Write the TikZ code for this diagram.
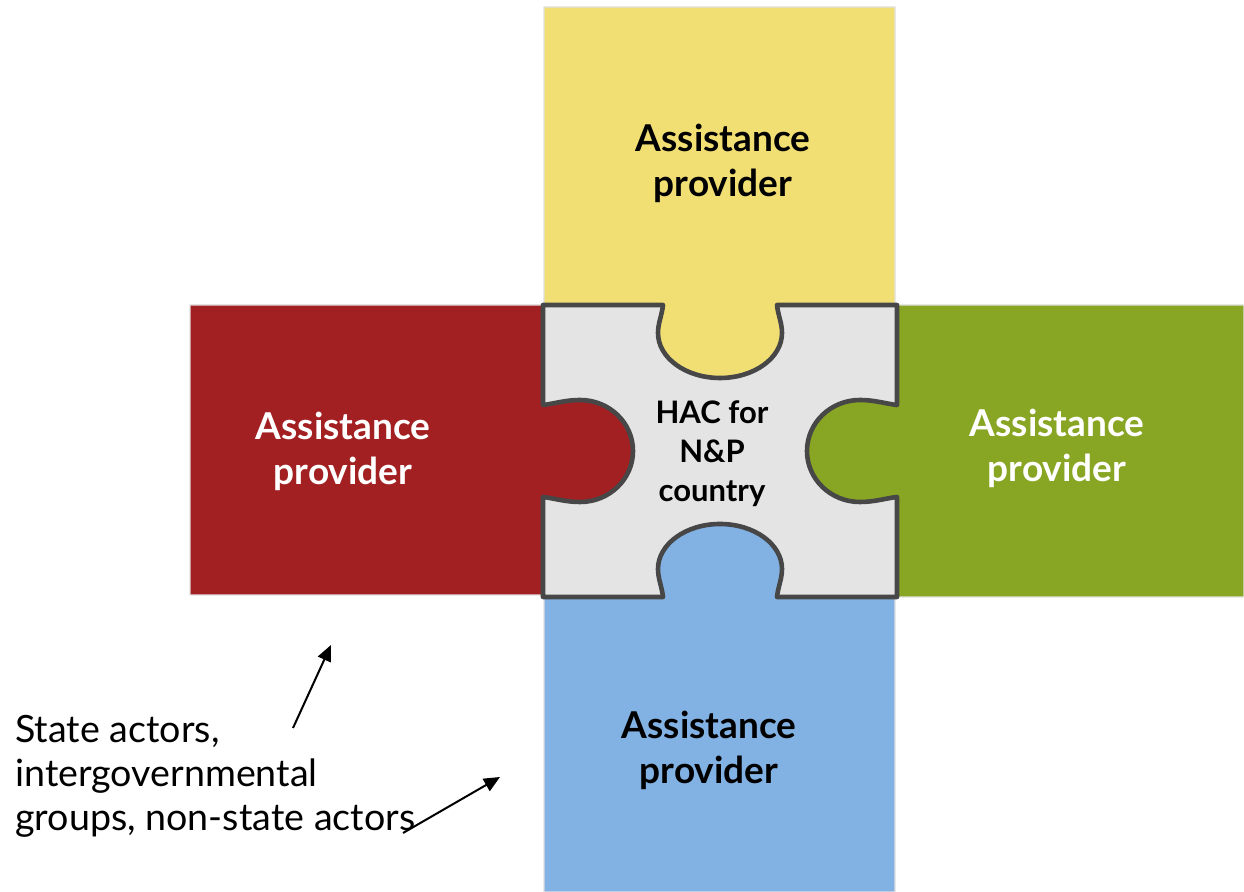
\documentclass[tikz,border=0pt]{standalone}
\usepackage{fontspec}
\setmainfont{Lato}
\usetikzlibrary{arrows.meta}
\definecolor{pyellow}{HTML}{F2DF74}
\definecolor{pred}{HTML}{A32022}
\definecolor{pgreen}{HTML}{88A523}
\definecolor{pblue}{HTML}{82B1E3}
\definecolor{pcenter}{HTML}{E4E4E4}
\definecolor{pborder}{HTML}{474747}
\begin{document}
\begin{tikzpicture}[x=0.5pt,y=-0.5pt,
  piece/.style={draw=black!12, line width=0.6pt},
  hub/.style={fill=pcenter, draw=pborder, line width=2.3pt, line join=round},
  plabel/.style={font=\bfseries\fontsize{18.5}{22.5}\selectfont, align=center, inner sep=0pt},
  hlabel/.style={font=\bfseries\fontsize{15.5}{19.5}\selectfont, align=center, inner sep=0pt},
  note/.style={font=\fontsize{18.8}{22}\selectfont, align=left, inner sep=0pt, anchor=west},
  pointer/.style={line width=1pt, -{Triangle[length=8pt,width=7pt]}}]
\useasboundingbox (0,0) rectangle (1244,892);
% yellow piece (top)
\path[fill=pyellow, piece] (544,7) -- (895,7) -- (895,305) -- (777,305)
  .. controls (778,315) and (782,323) .. (782,333)
  .. controls (782,357.9) and (754.2,378) .. (720,378)
  .. controls (685.8,378) and (658,357.9) .. (658,333)
  .. controls (658,323) and (662,315) .. (663,305) -- (544,305) -- cycle;
% red piece (left)
\path[fill=pred, piece] (190,305) -- (543,305) -- (543,405)
  .. controls (553,404) and (565,400) .. (580,400)
  .. controls (609.3,400) and (633,422.8) .. (633,451)
  .. controls (633,479.2) and (609.3,502) .. (580,502)
  .. controls (565,502) and (553,498) .. (543,497) -- (543,595) -- (190,595) -- cycle;
% green piece (right)
\path[fill=pgreen, piece] (1244,305) -- (897,305) -- (897,405)
  .. controls (887,404) and (875,400) .. (860,400)
  .. controls (830.7,400) and (807,422.8) .. (807,451)
  .. controls (807,479.2) and (830.7,502) .. (860,502)
  .. controls (875,502) and (887,498) .. (897,497) -- (897,597) -- (1244,597) -- cycle;
% blue piece (bottom)
\path[fill=pblue, piece] (544,892) -- (544,597) -- (663,597)
  .. controls (662,587) and (658,579) .. (658,569)
  .. controls (658,544.1) and (685.8,524) .. (720,524)
  .. controls (754.2,524) and (782,544.1) .. (782,569)
  .. controls (782,579) and (778,587) .. (777,597) -- (895,597) -- (895,892) -- cycle;
% centre piece
\path[hub] (543,305) -- (663,305)
  .. controls (662,315) and (658,323) .. (658,333)
  .. controls (658,357.9) and (685.8,378) .. (720,378)
  .. controls (754.2,378) and (782,357.9) .. (782,333)
  .. controls (782,323) and (778,315) .. (777,305) -- (897,305) -- (897,405)
  .. controls (887,404) and (875,400) .. (860,400)
  .. controls (830.7,400) and (807,422.8) .. (807,451)
  .. controls (807,479.2) and (830.7,502) .. (860,502)
  .. controls (875,502) and (887,498) .. (897,497) -- (897,597) -- (777,597)
  .. controls (778,587) and (782,579) .. (782,569)
  .. controls (782,544.1) and (754.2,524) .. (720,524)
  .. controls (685.8,524) and (658,544.1) .. (658,569)
  .. controls (658,579) and (662,587) .. (663,597) -- (543,597) -- (543,497)
  .. controls (553,498) and (565,502) .. (580,502)
  .. controls (609.3,502) and (633,479.2) .. (633,451)
  .. controls (633,422.8) and (609.3,400) .. (580,400)
  .. controls (565,400) and (553,404) .. (543,405) -- cycle;
% labels
\node[plabel, text=black] (ytext) at (723,163) {Assistance\\provider};
\node[plabel, text=white] (rtext) at (343,451) {Assistance\\provider};
\node[plabel, text=white] (gtext) at (1057,448) {Assistance\\provider};
\node[plabel, text=black] (btext) at (709,750) {Assistance\\provider};
\node[hlabel, text=black] (ctext) at (712,454) {HAC for\\N\&P\\country};
\node[note] (notetext) at (15,776) {State actors,\\intergovernmental\\groups, non-state actors};
% pointers
\coordinate (p1s) at (293,728);
\coordinate (p1e) at (331,645);
\coordinate (p2s) at (403,833);
\coordinate (p2e) at (500,777);
\draw[pointer] (p1s) -- (p1e);
\draw[pointer] (p2s) -- (p2e);
\end{tikzpicture}
\end{document}
